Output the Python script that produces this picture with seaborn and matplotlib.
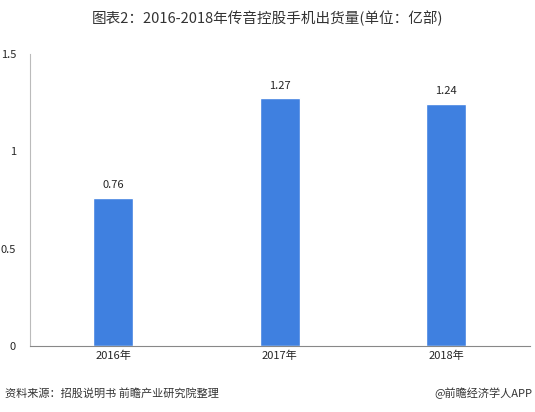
import matplotlib
matplotlib.use("Agg")
import matplotlib.pyplot as plt
import seaborn as sns
import pandas as pd

years = ["2016年", "2017年", "2018年"]
shipments = [0.76, 1.27, 1.24]
yticks = [0, 0.5, 1, 1.5]
ytick_labels = ["0", "0.5", "1", "1.5"]

sns.set_style("white")
plt.rcParams["font.family"] = ["Noto Sans CJK SC", "DejaVu Sans"]

df = pd.DataFrame({"year": years, "value": shipments})

fig = plt.figure(figsize=(5.35, 4.12), dpi=100)
ax = fig.add_axes([0.056, 0.16, 0.934, 0.71])
sns.barplot(data=df, x="year", y="value", color="#3F80E0", width=0.24,
            saturation=1, ax=ax)
for i, v in enumerate(shipments):
    ax.text(i, v + 0.04, f"{v:.2f}", ha="center", va="bottom", fontsize=8)

ax.set_ylim(0, 1.5)
ax.set_yticks(yticks)
ax.set_yticklabels(ytick_labels)
ax.set_xlabel("")
ax.set_ylabel("")
ax.tick_params(axis="both", labelsize=8, length=0)
ax.tick_params(axis="y", pad=10)
for s in ["top", "right"]:
    ax.spines[s].set_visible(False)
ax.spines["left"].set_color("#bbbbbb")
ax.spines["bottom"].set_color("#888888")

fig.text(0.5, 0.955, "图表2：2016-2018年传音控股手机出货量(单位：亿部)",
         ha="center", va="center", fontsize=10.5, color="#333333")
fig.text(0.01, 0.045, "资料来源：招股说明书 前瞻产业研究院整理",
         ha="left", va="center", fontsize=8, style="italic", color="#333333")
fig.text(0.995, 0.045, "@前瞻经济学人APP", ha="right", va="center",
         fontsize=8, color="#333333")

fig.savefig("out.png", dpi=100)
